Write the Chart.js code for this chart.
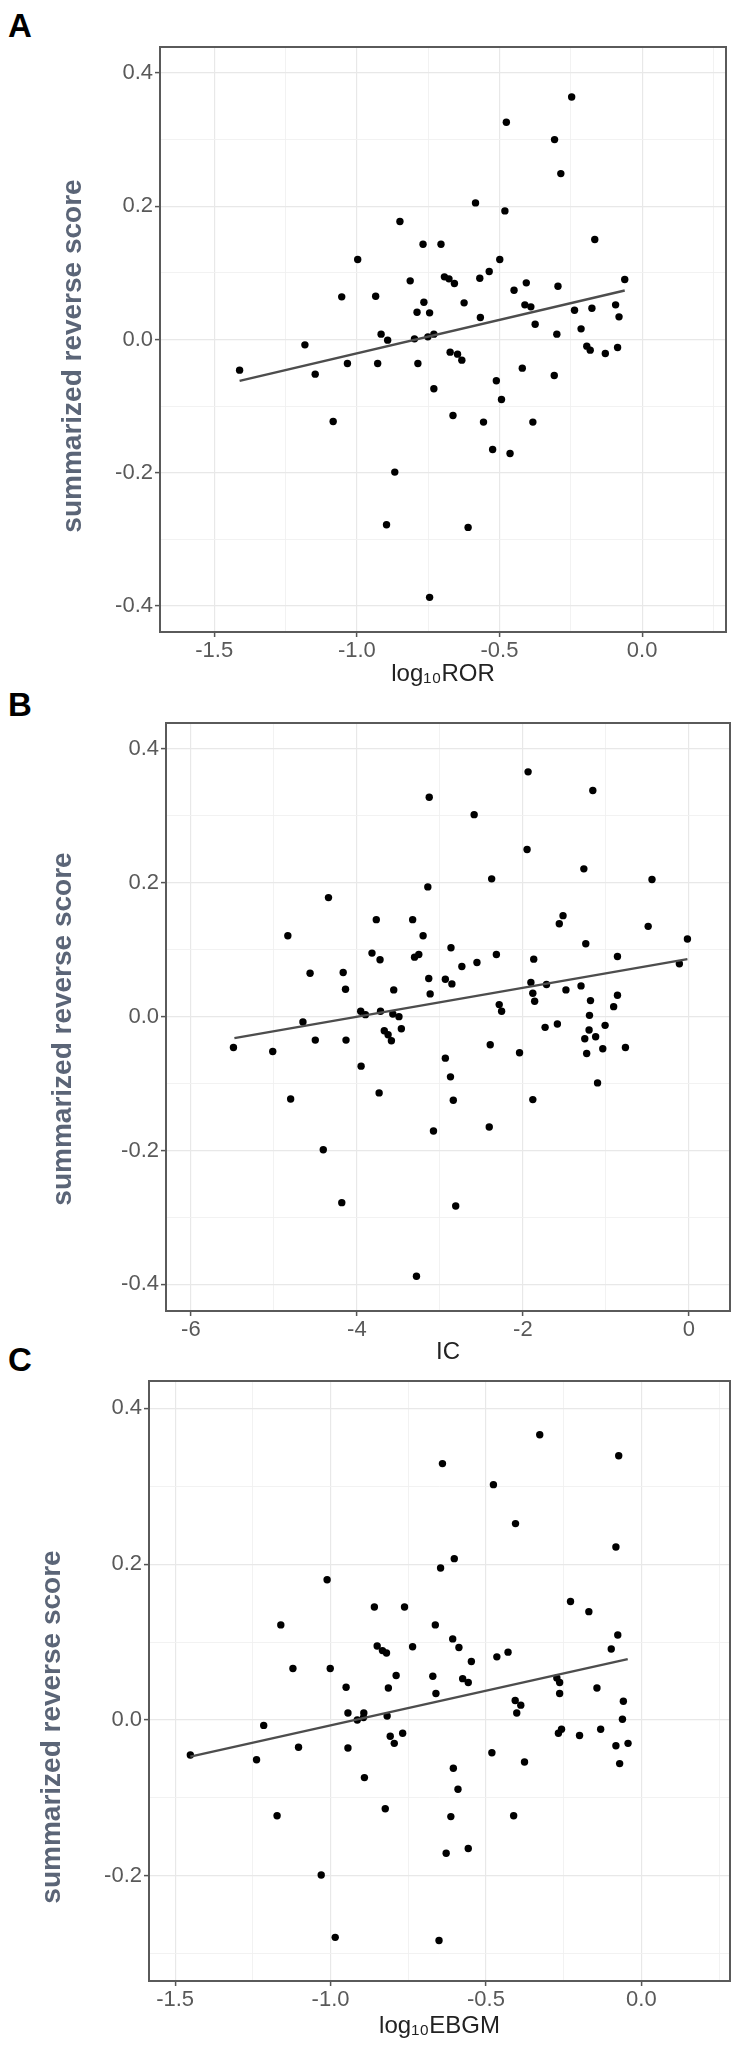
<!DOCTYPE html>
<html>
<head>
<meta charset="utf-8">
<script src="https://cdn.jsdelivr.net/npm/chart.js@4.4.1/dist/chart.umd.min.js"></script>
<style>
html, body { margin: 0; padding: 0; background: #fff; }
body { position: relative; width: 742px; height: 2046px; overflow: hidden; font-family: "Liberation Sans", Arial, Helvetica, sans-serif; }
canvas { position: absolute; left: 0; }
.tag { position: absolute; left: 8px; font-weight: bold; font-size: 33px; line-height: 1; color: #000; }
</style>
</head>
<body>
<div class="tag" style="top:9px">A</div>
<div class="tag" style="top:688px">B</div>
<div class="tag" style="top:1343px">C</div>
<canvas id="chartA" width="742" height="700" style="top:0px;width:742px;height:700px"></canvas>
<canvas id="chartB" width="742" height="700" style="top:680px;width:742px;height:700px"></canvas>
<canvas id="chartC" width="742" height="706" style="top:1340px;width:742px;height:706px"></canvas>
<script>
const FONT = '"Liberation Sans", Arial, Helvetica, sans-serif';
const Y_TITLE = 'summarized reverse score';

// Panel A - log10(ROR) vs score
const rorX = [-0.247, -0.476, -0.307, -0.285, -0.584, -0.481, -0.849, -0.166, -0.768, -0.705,
  -0.997, -0.499, -0.813, -0.693, -0.677, -0.658, -0.569, -0.536, -0.449, -0.406,
  -0.295, -0.061, -1.053, -0.934, -0.765, -0.624, -0.789, -0.745, -0.411, -0.390,
  -0.237, -0.176, -0.093, -0.081, -0.567, -0.375, -0.214, -0.299, -0.915, -0.892,
  -0.798, -0.751, -0.730, -1.182, -0.194, -0.182, -0.129, -0.086, -0.673, -0.647,
  -0.632, -1.411, -1.033, -0.927, -0.786, -1.146, -0.420, -0.308, -0.511, -0.730,
  -0.493, -1.083, -0.663, -0.556, -0.383, -0.524, -0.463, -0.867, -0.896, -0.610, -0.745];
const rorY = [0.364, 0.326, 0.300, 0.249, 0.205, 0.193, 0.177, 0.150, 0.143, 0.143,
  0.120, 0.120, 0.088, 0.094, 0.091, 0.084, 0.092, 0.102, 0.074, 0.085,
  0.080, 0.090, 0.064, 0.065, 0.056, 0.055, 0.041, 0.040, 0.052, 0.049,
  0.044, 0.047, 0.052, 0.034, 0.033, 0.023, 0.016, 0.008, 0.008, -0.001,
  0.001, 0.004, 0.008, -0.008, -0.010, -0.016, -0.021, -0.012, -0.019, -0.022,
  -0.031, -0.046, -0.036, -0.036, -0.036, -0.052, -0.043, -0.054, -0.062, -0.074,
  -0.090, -0.123, -0.114, -0.124, -0.124, -0.165, -0.171, -0.199, -0.278, -0.282, -0.387];
const rorFitX = [-1.411, -0.061];
const rorFitY = [-0.062, 0.0735];
const rorGridX = [-1.5, -1.25, -1.0, -0.75, -0.5, -0.25, 0.0, 0.25];
const rorTickX = [-1.5, -1.0, -0.5, 0.0];

// Panel B - IC vs score
const icX = [-1.937, -1.157, -3.128, -2.587, -1.949, -1.265, -2.376, -0.444, -3.145, -4.342,
  -3.766, -3.328, -1.516, -1.561, -0.490, -4.832, -3.202, -0.017, -1.242, -2.866,
  -3.818, -3.721, -3.305, -3.254, -2.319, -1.869, -0.860, -2.735, -2.553, -0.114,
  -4.564, -4.165, -3.134, -2.934, -2.855, -1.903, -1.715, -1.299, -1.481, -4.137,
  -3.556, -3.117, -1.880, -0.860, -1.185, -1.858, -0.906, -2.285, -2.256, -1.197,
  -4.650, -3.954, -3.897, -3.715, -3.567, -3.493, -3.464, -3.670, -3.624, -3.584,
  -1.732, -1.584, -1.009, -1.202, -1.254, -1.123, -4.501, -4.131, -5.487, -5.014,
  -2.393, -2.040, -1.231, -1.037, -0.764, -2.934, -3.949, -2.872, -1.100, -3.732,
  -4.798, -2.838, -1.880, -2.405, -3.077, -4.405, -4.182, -2.809, -3.282];
const icY = [0.366, 0.338, 0.328, 0.302, 0.250, 0.221, 0.206, 0.205, 0.194, 0.178,
  0.145, 0.145, 0.151, 0.139, 0.135, 0.121, 0.121, 0.116, 0.109, 0.103,
  0.095, 0.085, 0.089, 0.093, 0.093, 0.086, 0.090, 0.075, 0.081, 0.079,
  0.065, 0.066, 0.057, 0.056, 0.049, 0.051, 0.048, 0.046, 0.040, 0.041,
  0.040, 0.034, 0.035, 0.032, 0.024, 0.023, 0.015, 0.018, 0.008, 0.002,
  -0.008, 0.008, 0.003, 0.008, 0.004, 0.000, -0.018, -0.021, -0.027, -0.036,
  -0.016, -0.011, -0.013, -0.020, -0.033, -0.030, -0.035, -0.035, -0.046, -0.052,
  -0.042, -0.054, -0.055, -0.048, -0.046, -0.062, -0.074, -0.090, -0.099, -0.114,
  -0.123, -0.125, -0.124, -0.165, -0.171, -0.199, -0.278, -0.283, -0.388];
const icFitX = [-5.476, -0.017];
const icFitY = [-0.032, 0.086];
const icGridX = [-6, -5, -4, -3, -2, -1, 0];
const icTickX = [-6, -4, -2, 0];

// Panel C - log10(EBGM) vs score
const ebgmX = [-0.327, -0.073, -0.640, -0.476, -0.405, -0.082, -0.602, -0.646, -1.011, -0.859,
  -0.762, -0.228, -0.169, -1.160, -0.663, -0.076, -0.607, -0.587, -0.850, -0.833,
  -0.820, -0.736, -0.097, -0.429, -0.465, -0.547, -1.121, -1.001, -0.789, -0.671,
  -0.575, -0.557, -0.272, -0.263, -0.263, -0.143, -0.950, -0.814, -0.661, -0.406,
  -0.388, -0.401, -0.058, -0.944, -0.893, -0.894, -0.914, -0.818, -0.061, -1.215,
  -0.768, -0.808, -0.795, -0.257, -0.267, -0.199, -0.131, -0.082, -0.043, -1.103,
  -0.944, -1.451, -1.238, -0.481, -0.376, -0.070, -0.605, -0.891, -0.590, -0.824,
  -1.172, -0.613, -0.411, -0.557, -0.628, -1.030, -0.985, -0.651];
const ebgmY = [0.366, 0.339, 0.329, 0.302, 0.252, 0.222, 0.207, 0.195, 0.180, 0.145,
  0.145, 0.152, 0.139, 0.122, 0.122, 0.109, 0.104, 0.093, 0.095, 0.089,
  0.086, 0.094, 0.091, 0.087, 0.081, 0.075, 0.066, 0.066, 0.057, 0.056,
  0.053, 0.048, 0.054, 0.048, 0.034, 0.041, 0.042, 0.041, 0.034, 0.025,
  0.019, 0.009, 0.024, 0.009, 0.009, 0.003, 0.000, 0.005, 0.001, -0.007,
  -0.017, -0.021, -0.030, -0.012, -0.017, -0.020, -0.012, -0.033, -0.030, -0.035,
  -0.036, -0.045, -0.051, -0.042, -0.054, -0.056, -0.062, -0.074, -0.089, -0.114,
  -0.123, -0.124, -0.123, -0.165, -0.171, -0.199, -0.279, -0.283];
const ebgmFitX = [-1.451, -0.044];
const ebgmFitY = [-0.047, 0.078];
const ebgmGridX = [-1.5, -1.25, -1.0, -0.75, -0.5, -0.25, 0.0, 0.25];
const ebgmTickX = [-1.5, -1.0, -0.5, 0.0];

// shared y breaks
const scoreGridY = [-0.4, -0.3, -0.2, -0.1, 0.0, 0.1, 0.2, 0.3, 0.4];
const scoreTickY = [-0.4, -0.2, 0.0, 0.2, 0.4];
const ebgmGridY = [-0.3, -0.2, -0.1, 0.0, 0.1, 0.2, 0.3, 0.4];
const ebgmTickY = [-0.2, 0.0, 0.2, 0.4];

// outline of the panel, like ggplot theme_bw
const panelBox = {
    id: 'panelBox',
    afterDraw(chart) {
        const a = chart.chartArea;
        const ctx = chart.ctx;
        ctx.save();
        ctx.strokeStyle = '#5a5a5a';
        ctx.lineWidth = 2;
        ctx.strokeRect(a.left, a.top, a.right - a.left, a.bottom - a.top);
        ctx.restore();
    }
};

// y title sits a little off the panel centre in the source figure
const yTitle = {
    id: 'yTitle',
    afterDraw(chart, args, opts) {
        const ctx = chart.ctx;
        ctx.save();
        ctx.translate(opts.x, opts.y);
        ctx.rotate(-Math.PI / 2);
        ctx.font = 'bold 28px ' + FONT;
        ctx.fillStyle = '#5b6577';
        ctx.textAlign = 'center';
        ctx.textBaseline = 'middle';
        ctx.fillText(opts.text, 0, 0);
        ctx.restore();
    }
};

function gridFor(major) {
    const isMajor = c => c.tick && major.includes(c.tick.value);
    return {
        color: c => isMajor(c) ? '#e8e8e8' : '#f1f1f1',
        lineWidth: c => isMajor(c) ? 1.2 : 0.9,
        tickColor: c => isMajor(c) ? '#555555' : 'rgba(0,0,0,0)',
        tickLength: 5,
        tickWidth: 1.5,
        drawTicks: true
    };
}

function makePanel(id, p) {
    const points = p.xs.map((x, i) => ({ x: x, y: p.ys[i] }));
    const fit = p.fitX.map((x, i) => ({ x: x, y: p.fitY[i] }));
    return new Chart(document.getElementById(id), {
        type: 'scatter',
        data: {
            datasets: [
                {
                    label: 'fit',
                    data: fit,
                    showLine: true,
                    borderColor: '#4d4d4d',
                    borderWidth: 2.4,
                    pointRadius: 0,
                    order: 0
                },
                {
                    label: 'drugs',
                    data: points,
                    pointRadius: 3.7,
                    pointBorderWidth: 0,
                    pointBackgroundColor: '#000000',
                    order: 1
                }
            ]
        },
        options: {
            responsive: false,
            animation: false,
            layout: { padding: { top: p.top, right: p.right, bottom: 0, left: 0 } },
            scales: {
                x: {
                    type: 'linear',
                    min: p.xMin,
                    max: p.xMax,
                    afterBuildTicks: s => { s.ticks = p.gridX.map(v => ({ value: v })); },
                    afterFit: s => { s.height = p.xHeight; },
                    grid: gridFor(p.tickX),
                    border: { display: false },
                    ticks: {
                        autoSkip: false,
                        maxRotation: 0,
                        padding: 1,
                        color: '#595959',
                        font: { family: FONT, size: 22 },
                        callback: v => p.tickX.includes(v) ? v.toFixed(p.xDigits) : ''
                    },
                    title: {
                        display: true,
                        text: p.xTitle,
                        color: '#222222',
                        font: { family: FONT, size: 24 },
                        padding: { top: 0, bottom: p.xTitlePad }
                    }
                },
                y: {
                    type: 'linear',
                    min: p.yMin,
                    max: p.yMax,
                    afterBuildTicks: s => { s.ticks = p.gridY.map(v => ({ value: v })); },
                    afterFit: s => { s.width = p.left; },
                    grid: gridFor(p.tickY),
                    border: { display: false },
                    ticks: {
                        autoSkip: false,
                        padding: 2,
                        color: '#595959',
                        font: { family: FONT, size: 22 },
                        callback: v => p.tickY.includes(v) ? v.toFixed(1) : ''
                    }
                }
            },
            plugins: {
                legend: { display: false },
                tooltip: { enabled: false },
                yTitle: { text: Y_TITLE, x: p.yTitleX, y: p.yTitleY }
            }
        },
        plugins: [panelBox, yTitle]
    });
}

makePanel('chartA', {
    xs: rorX, ys: rorY, fitX: rorFitX, fitY: rorFitY,
    xMin: -1.69, xMax: 0.294, yMin: -0.439, yMax: 0.439,
    gridX: rorGridX, tickX: rorTickX, gridY: scoreGridY, tickY: scoreTickY, xDigits: 1,
    xTitle: 'log\u2081\u2080ROR', xTitlePad: 11,
    top: 47, left: 160, right: 16, xHeight: 68,
    yTitleX: 73, yTitleY: 356
});

makePanel('chartB', {
    xs: icX, ys: icY, fitX: icFitX, fitY: icFitY,
    xMin: -6.30, xMax: 0.496, yMin: -0.440, yMax: 0.439,
    gridX: icGridX, tickX: icTickX, gridY: scoreGridY, tickY: scoreTickY, xDigits: 0,
    xTitle: 'IC', xTitlePad: 13,
    top: 43, left: 166, right: 12, xHeight: 69,
    yTitleX: 63, yTitleY: 349
});

makePanel('chartC', {
    xs: ebgmX, ys: ebgmY, fitX: ebgmFitX, fitY: ebgmFitY,
    xMin: -1.584, xMax: 0.285, yMin: -0.335, yMax: 0.435,
    gridX: ebgmGridX, tickX: ebgmTickX, gridY: ebgmGridY, tickY: ebgmTickY, xDigits: 1,
    xTitle: 'log\u2081\u2080EBGM', xTitlePad: 5,
    top: 41, left: 149, right: 12, xHeight: 65,
    yTitleX: 52, yTitleY: 387
});
</script>
</body>
</html>
